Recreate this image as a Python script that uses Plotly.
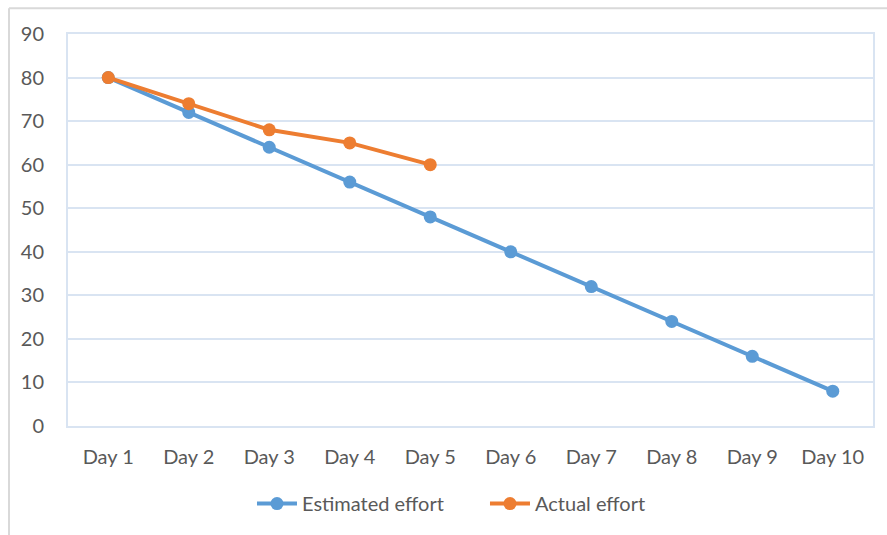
import plotly.graph_objects as go

days = ["Day 1", "Day 2", "Day 3", "Day 4", "Day 5",
        "Day 6", "Day 7", "Day 8", "Day 9", "Day 10"]
estimated_effort = [80, 72, 64, 56, 48, 40, 32, 24, 16, 8]
actual_effort = [80, 74, 68, 65, 60]
y_ticks = [0, 10, 20, 30, 40, 50, 60, 70, 80, 90]

BLUE = "#5B9BD5"
ORANGE = "#ED7D31"
GRID = "#D9E4F2"
TEXT = "#595959"
FONT = "Lato, Open Sans, sans-serif"

fig = go.Figure()
fig.add_trace(go.Scatter(
    x=days, y=estimated_effort, name="Estimated effort",
    mode="lines+markers",
    line=dict(color=BLUE, width=4),
    marker=dict(color=BLUE, size=13),
))
fig.add_trace(go.Scatter(
    x=days[:len(actual_effort)], y=actual_effort, name="Actual effort",
    mode="lines+markers",
    line=dict(color=ORANGE, width=4),
    marker=dict(color=ORANGE, size=13),
))

fig.update_layout(
    width=887, height=535,
    margin=dict(l=68, r=14, t=34, b=107),
    paper_bgcolor="white", plot_bgcolor="white",
    font=dict(family=FONT, size=20, color=TEXT),
    showlegend=True,
    legend=dict(orientation="h", x=0.518, xanchor="center",
                y=-0.198, yanchor="middle",
                font=dict(size=20, color=TEXT), itemwidth=40,
                entrywidth=178, entrywidthmode="pixels",
                traceorder="normal"),
    xaxis=dict(
        type="category", categoryorder="array", categoryarray=days,
        range=[-0.5, 9.5], showgrid=False, zeroline=False,
        showline=True, linecolor=GRID, linewidth=2, mirror=True,
        ticks="outside", ticklen=12, tickcolor="rgba(0,0,0,0)",
        tickfont=dict(size=20, color=TEXT),
    ),
    yaxis=dict(
        range=[0, 90], tickvals=y_ticks, showgrid=True,
        gridcolor=GRID, gridwidth=2, zeroline=False,
        showline=True, linecolor=GRID, linewidth=2, mirror=True,
        ticks="outside", ticklen=18, tickcolor="rgba(0,0,0,0)",
        tickfont=dict(size=20, color=TEXT),
    ),
    shapes=[
        # chart frame: top and left edges
        dict(type="line", xref="paper", yref="paper",
             x0=-59 / 805, x1=1.03, y0=420 / 394, y1=420 / 394,
             line=dict(color="#D9D9D9", width=2)),
        dict(type="line", xref="paper", yref="paper",
             x0=-59 / 805, x1=-59 / 805, y0=420 / 394, y1=-0.3,
             line=dict(color="#D9D9D9", width=2)),
    ],
)

fig.write_html("out.html")
